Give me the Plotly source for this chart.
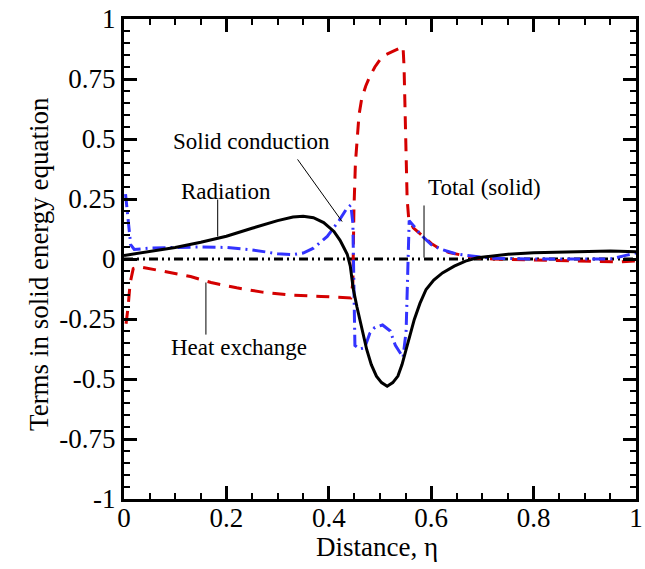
import plotly.graph_objects as go

# ---------------- data ----------------
rad_x = [0.0, 0.05, 0.1, 0.15, 0.2, 0.25, 0.3, 0.33, 0.35, 0.37, 0.39, 0.41, 0.422, 0.43,
         0.436, 0.442, 0.448, 0.455, 0.461, 0.468, 0.474, 0.483, 0.493, 0.503, 0.514,
         0.525, 0.535, 0.543, 0.551, 0.559, 0.567, 0.578, 0.59, 0.605, 0.622, 0.645,
         0.667, 0.69, 0.72, 0.75, 0.8, 0.85, 0.9, 0.95, 1.0]
rad_y = [0.015, 0.03, 0.048, 0.07, 0.095, 0.128, 0.16, 0.175, 0.178, 0.172, 0.152, 0.115,
         0.078, 0.045, 0.02, -0.03, -0.127, -0.2, -0.252, -0.32, -0.377, -0.44, -0.488,
         -0.515, -0.53, -0.515, -0.488, -0.44, -0.377, -0.31, -0.252, -0.185, -0.127,
         -0.088, -0.058, -0.03, -0.009, 0.005, 0.014, 0.02, 0.026, 0.029, 0.031, 0.033, 0.03]

hx_x = [0.004, 0.008, 0.012, 0.018, 0.03, 0.05, 0.07, 0.09, 0.13, 0.17, 0.22, 0.27, 0.325,
        0.385, 0.43, 0.443, 0.447, 0.449, 0.452, 0.455, 0.459, 0.464, 0.472, 0.48, 0.49,
        0.5, 0.51, 0.525, 0.54, 0.545, 0.547, 0.55, 0.553, 0.556, 0.565, 0.584, 0.6,
        0.615, 0.635, 0.667, 0.686, 0.72, 0.8, 0.9, 0.97, 1.0]
hx_y = [-0.27, -0.2, -0.1, -0.04, -0.032, -0.04, -0.05, -0.057, -0.073, -0.098, -0.12,
        -0.138, -0.15, -0.156, -0.16, -0.162, -0.1, 0.2, 0.4, 0.5, 0.6, 0.665, 0.72, 0.76,
        0.8, 0.83, 0.85, 0.865, 0.88, 0.885, 0.8, 0.5, 0.25, 0.17, 0.13, 0.095, 0.065,
        0.045, 0.027, 0.013, 0.005, 0.0, -0.003, -0.008, -0.012, -0.008]

sc_x = [0.003, 0.006, 0.009, 0.013, 0.02, 0.05, 0.1, 0.15, 0.2, 0.25, 0.3, 0.33, 0.35,
        0.37, 0.397, 0.42, 0.435, 0.443, 0.447, 0.449, 0.451, 0.46, 0.47, 0.48, 0.49,
        0.505, 0.52, 0.53, 0.545, 0.551, 0.555, 0.557, 0.565, 0.58, 0.6, 0.62, 0.65,
        0.68, 0.72, 0.8, 0.9, 0.95, 0.98, 1.0]
sc_y = [0.27, 0.2, 0.12, 0.06, 0.04, 0.045, 0.048, 0.05, 0.048, 0.038, 0.022, 0.018,
        0.025, 0.045, 0.094, 0.16, 0.21, 0.225, 0.15, -0.1, -0.36, -0.375, -0.37, -0.31,
        -0.285, -0.275, -0.3, -0.36, -0.41, -0.3, 0.0, 0.16, 0.14, 0.1, 0.06, 0.04, 0.02,
        0.012, 0.003, 0.0, -0.001, 0.0, 0.015, 0.025]

tot_x = [0.0, 0.25, 0.5, 0.75, 1.0]
tot_y = [0.0, 0.0, 0.0, 0.0, 0.0]

x_ticks = [0, 0.2, 0.4, 0.6, 0.8, 1]
x_ticklabels = ["0", "0.2", "0.4", "0.6", "0.8", "1"]
y_ticks = [-1, -0.75, -0.5, -0.25, 0, 0.25, 0.5, 0.75, 1]
y_ticklabels = ["-1", "-0.75", "-0.5", "-0.25", "0", "0.25", "0.5", "0.75", "1"]

FONT = "Liberation Serif"

fig = go.Figure()
fig.add_trace(go.Scatter(x=tot_x, y=tot_y, mode="lines", name="Total (solid)",
                         line=dict(color="black", width=3,
                                   dash="9px,4px,2px,4px,2px,4px")))
fig.add_trace(go.Scatter(x=hx_x, y=hx_y, mode="lines", name="Heat exchange",
                         line=dict(color="#d40000", width=3, dash="13px,9px")))
fig.add_trace(go.Scatter(x=sc_x, y=sc_y, mode="lines", name="Solid conduction",
                         line=dict(color="#3333ff", width=3, dash="13px,5px,2px,5px")))
fig.add_trace(go.Scatter(x=rad_x, y=rad_y, mode="lines", name="Radiation",
                         line=dict(color="black", width=3)))

# leader lines + labels
labels = [
    ("Radiation", 0.2, 0.281, [0.183, 0.183], [0.248, 0.094]),
    ("Solid conduction", 0.249, 0.49, [0.339, 0.426], [0.415, 0.156]),
    ("Total (solid)", 0.705, 0.298, [0.586, 0.586], [0.223, 0.006]),
    ("Heat exchange", 0.224, -0.369, [0.16, 0.16], [-0.098, -0.315]),
]
for text, tx, ty, lx, ly in labels:
    fig.add_shape(type="line", x0=lx[0], x1=lx[1], y0=ly[0], y1=ly[1],
                  xref="x", yref="y", line=dict(color="black", width=1))
    fig.add_annotation(x=tx, y=ty, xref="x", yref="y", text=text, showarrow=False,
                       font=dict(family=FONT, size=23, color="black"),
                       xanchor="center", yanchor="middle")

fig.add_annotation(x=-0.1657, y=0.49, xref="paper", yref="paper",
                   text="Terms in solid energy equation", showarrow=False, textangle=-90,
                   font=dict(family=FONT, size=27, color="black"),
                   xanchor="center", yanchor="middle")
fig.add_annotation(x=0.495, y=-0.1, xref="paper", yref="paper",
                   text="Distance, η", showarrow=False,
                   font=dict(family=FONT, size=27, color="black"),
                   xanchor="center", yanchor="middle")

axis_common = dict(showline=True, linecolor="black", linewidth=3, mirror="ticks",
                   ticks="inside", ticklen=13, tickwidth=3, tickcolor="black",
                   showgrid=False, zeroline=False,
                   tickfont=dict(family=FONT, size=27, color="black"))
fig.update_xaxes(range=[0, 1], tickvals=x_ticks, ticktext=x_ticklabels,
                 ticklabeloverflow="allow", ticklabelstandoff=-7,
                 minor=dict(ticks="inside", ticklen=6, tickwidth=1.5, dtick=0.05,
                            tickcolor="black", showgrid=False),
                 **axis_common)
fig.update_yaxes(range=[-1, 1], tickvals=y_ticks, ticktext=y_ticklabels,
                 ticklabeloverflow="allow",
                 minor=dict(ticks="inside", ticklen=6, tickwidth=1.5, dtick=0.05,
                            tickcolor="black", showgrid=False),
                 **axis_common)

fig.update_layout(width=645, height=569, showlegend=False,
                  paper_bgcolor="white", plot_bgcolor="white",
                  margin=dict(l=124, r=2, t=19, b=70),
                  font=dict(family=FONT, color="black"))

fig.write_html("out.html")
